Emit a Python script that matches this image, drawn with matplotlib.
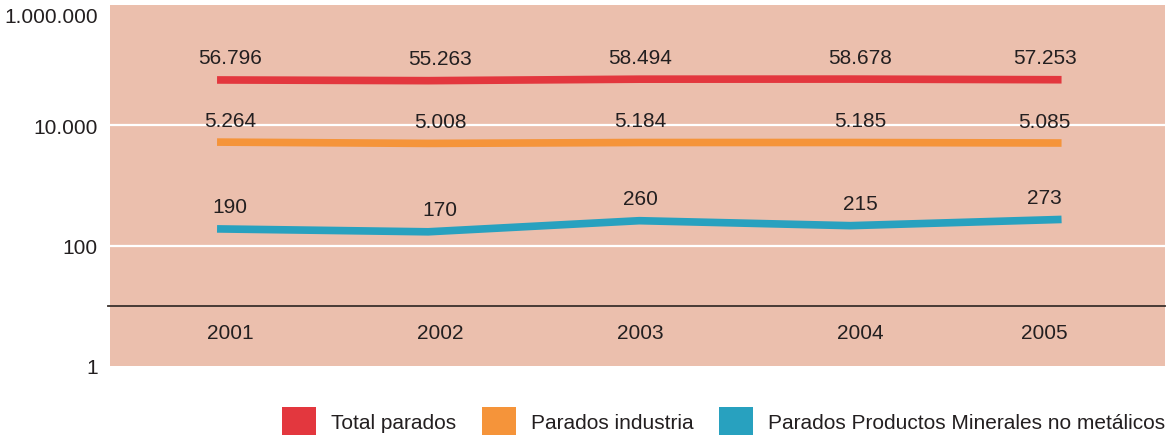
import matplotlib
matplotlib.use("Agg")
import matplotlib.pyplot as plt
import matplotlib.transforms as mtransforms
from matplotlib.patches import Patch
import numpy as np

years = ["2001", "2002", "2003", "2004", "2005"]
total_parados = [56796, 55263, 58494, 58678, 57253]
parados_industria = [5264, 5008, 5184, 5185, 5085]
parados_minerales = [190, 170, 260, 215, 273]
series_names = ["Total parados", "Parados industria",
                "Parados Productos Minerales no metálicos"]
series_colors = ["#E3373E", "#F5943A", "#28A1BF"]
ytick_values = [1, 100, 10000, 1000000]
ytick_labels = ["1", "100", "10.000", "1.000.000"]

# horizontal pixel nudges of the text labels for each year (layout only)
label_nudge_px = [13, 12, 1, 10, -17]

plt.rcParams['font.family'] = ['Liberation Sans', 'DejaVu Sans']
W, H = 1168, 439
fig = plt.figure(figsize=(W / 100, H / 100), dpi=100)
ax = fig.add_axes([110 / W, 1 - 367 / H, 1055 / W, 361 / H])
ax.set_facecolor("#EBBFAD")
ax.set_yscale("log")
ax.set_ylim(1, 1e6)
ax.set_xlim(-0.507, 4.49)
for s in ax.spines.values():
    s.set_visible(False)

# grid lines
for v in [100, 10000]:
    ax.axhline(v, color="white", lw=1.6, zorder=1)
ax.axhline(10, color="#3a302c", lw=1.3, zorder=1, xmin=-0.002, clip_on=False)

x = np.arange(len(years))
fmt = lambda v: f"{v:,}".replace(",", ".")
for vals, col in zip([total_parados, parados_industria, parados_minerales], series_colors):
    ax.plot(x, vals, color=col, lw=5.5, solid_capstyle="butt", zorder=3)
    for i, v in enumerate(vals):
        ax.annotate(fmt(v), (x[i], v), xytext=(label_nudge_px[i], 22),
                    textcoords="offset pixels", ha="center", va="center",
                    fontsize=15, color="#231f20", zorder=4)

# category labels inside plot
for i, yr in enumerate(years):
    ax.annotate(yr, (x[i], 3.55), xytext=(label_nudge_px[i], 0), textcoords="offset pixels",
                ha="center", va="center", fontsize=15, color="#231f20")

ax.set_xticks([])
ax.set_yticks(ytick_values)
ax.set_yticklabels(ytick_labels)
ax.minorticks_off()
ax.tick_params(axis="y", length=0, pad=9, labelsize=15, labelcolor="#231f20")
fig.canvas.draw()
top_lbl = ax.get_yticklabels()[-1]
top_lbl.set_transform(top_lbl.get_transform() +
                      mtransforms.ScaledTranslation(0, -9 / 100, fig.dpi_scale_trans))

handles = [Patch(facecolor=c, edgecolor="none") for c in series_colors]
fig.legend(handles, series_names, loc="center right", bbox_to_anchor=(1165 / W, 1 - 422 / H),
           ncol=3, frameon=False, fontsize=15, handlelength=1.63, handleheight=1.75,
           handletextpad=0.7, columnspacing=1.25, borderpad=0, borderaxespad=0,
           labelcolor="#231f20")

fig.savefig("out.png", dpi=100)
